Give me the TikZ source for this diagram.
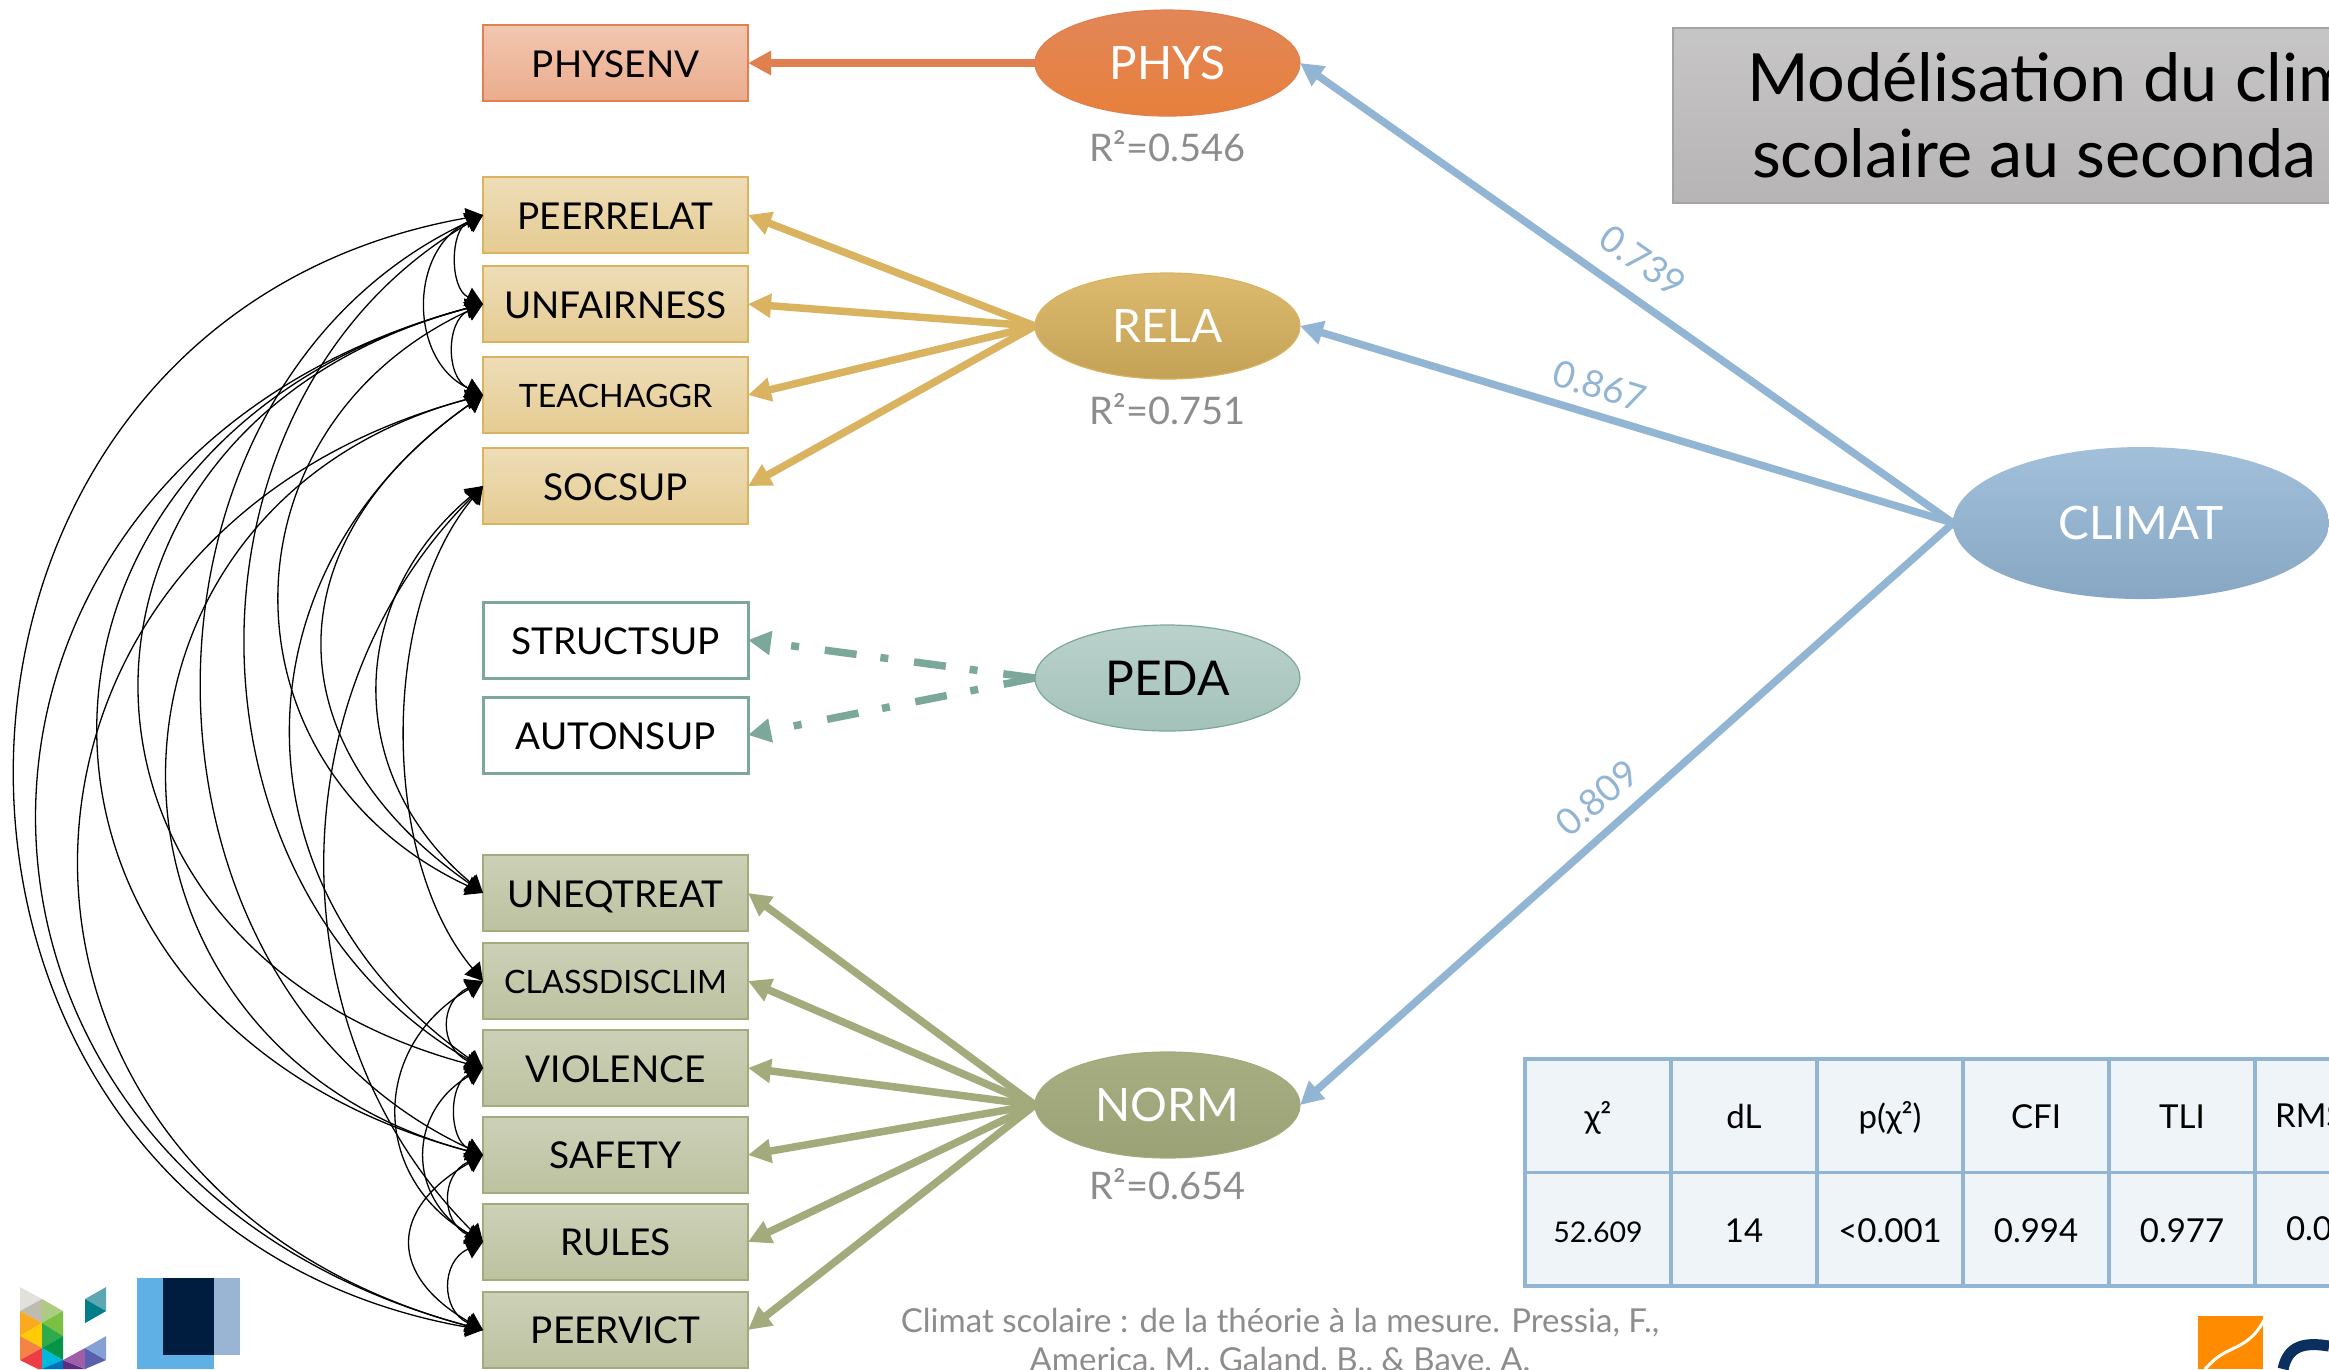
\documentclass[tikz,border=0pt]{standalone}
\usepackage{fontspec}
\setmainfont{Lato}
\usetikzlibrary{positioning,shapes.geometric,arrows.meta}

\definecolor{physline}{HTML}{E0804F}
\definecolor{relaline}{HTML}{D9B35F}
\definecolor{pedaline}{HTML}{7CA89C}
\definecolor{normline}{HTML}{A3AA7C}
\definecolor{climline}{HTML}{92B5D4}
\definecolor{softgray}{HTML}{8F8C8C}
\definecolor{navy}{HTML}{001D3F}
\definecolor{skyblue}{HTML}{5EB0E5}
\definecolor{slateblue}{HTML}{9AB5D4}
\definecolor{orangelogo}{HTML}{FF8C00}
\definecolor{navylogo}{HTML}{0B2F5F}
\definecolor{hexA}{HTML}{E2E0DB}
\definecolor{hexB}{HTML}{BDBCAF}
\definecolor{hexC}{HTML}{ADCB82}
\definecolor{hexD}{HTML}{FBA91E}
\definecolor{hexE}{HTML}{FFCB05}
\definecolor{hexF}{HTML}{7AC143}
\definecolor{hexG}{HTML}{2DAA4A}
\definecolor{hexH}{HTML}{F58345}
\definecolor{hexI}{HTML}{069447}
\definecolor{hexJ}{HTML}{EF3B43}
\definecolor{hexK}{HTML}{00B9DC}
\definecolor{hexL}{HTML}{0071BC}
\definecolor{hexM}{HTML}{5B2C86}
\definecolor{hexN}{HTML}{9E5FA6}
\definecolor{hexO}{HTML}{5B60AC}
\definecolor{hexP}{HTML}{84A0D4}
\definecolor{hexQ}{HTML}{5CA7B1}
\definecolor{hexR}{HTML}{007F8A}

\begin{document}
\begin{tikzpicture}
[x=0.1pt,y=-0.1pt,
 every node/.style={inner sep=0pt,outer sep=0pt,font=\fontsize{3.7}{4}\selectfont},
 obs/.style={rectangle,minimum width=26.5pt,minimum height=7.6pt,line width=0.15pt,text height=2.8pt,text depth=0pt},
 lat/.style={ellipse,minimum width=26.5pt,minimum height=10.6pt,line width=0.12pt,font=\fontsize{4.6}{5}\selectfont},
 physobs/.style={obs,draw=physline,top color=physline!45!white,bottom color=physline!65!white},
 relaobs/.style={obs,draw=relaline,top color=relaline!45!white,bottom color=relaline!68!white},
 pedaobs/.style={obs,draw=pedaline,line width=0.3pt,fill=white},
 normobs/.style={obs,draw=normline,top color=normline!55!white,bottom color=normline!72!white},
 tiny/.style={font=\fontsize{3.22}{3.6}\selectfont,text height=2.4pt},
 rsq/.style={softgray,font=\fontsize{3.8}{4}\selectfont},
 coef/.style={climline,font=\fontsize{3.7}{4}\selectfont},
 cell/.style={rectangle,draw=climline,line width=0.35pt,fill=climline!15!white,minimum width=14.6pt,minimum height=11.35pt,font=\fontsize{3.3}{3.6}\selectfont,text height=2.6pt,text depth=0pt},
 load/.style={->,line width=0.75pt,>={Triangle[length=2.3pt,width=2.3pt]}},
 cov/.style={<->,black,line width=0.13pt,>={Triangle[length=1.7pt,width=2pt]}}]

\useasboundingbox (0,0) rectangle (2329,1369);

% phys
\node[physobs] (PHYSENV) at (615.5,63) {PHYSENV};
\node[lat,top color=physline!95!white,bottom color=physline!75!orange,draw=physline,text=white] (PHYS) [on grid,right=55.2pt of PHYSENV] {PHYS};

% rela
\node[relaobs] (PEERRELAT)  [on grid,below=15.2pt of PHYSENV]  {PEERRELAT};
\node[relaobs] (UNFAIRNESS) [on grid,below=8.9pt of PEERRELAT]  {UNFAIRNESS};
\node[relaobs,tiny] (TEACHAGGR)  [on grid,below=9.1pt of UNFAIRNESS] {TEACHAGGR};
\node[relaobs] (SOCSUP)     [on grid,below=9.1pt of TEACHAGGR]  {SOCSUP};
\node[lat,top color=relaline!90!white,bottom color=relaline!90!black,draw=relaline,text=white] (RELA) [on grid,below=26.3pt of PHYS] {RELA};

% peda
\node[pedaobs] (STRUCTSUP) [on grid,below=15.4pt of SOCSUP]    {STRUCTSUP};
\node[pedaobs] (AUTONSUP)  [on grid,below=9.5pt of STRUCTSUP]  {AUTONSUP};
\node[lat,top color=pedaline!52!white,bottom color=pedaline!70!white,draw=pedaline,text=black,font=\fontsize{4.8}{5}\selectfont] (PEDA) [on grid,below=35.2pt of RELA] {PEDA};

% norm
\node[normobs] (UNEQTREAT)    [on grid,below=15.8pt of AUTONSUP]    {UNEQTREAT};
\node[normobs,tiny] (CLASSDISCLIM) [on grid,below=8.8pt of UNEQTREAT]    {CLASSDISCLIM};
\node[normobs] (VIOLENCE)     [on grid,below=8.7pt of CLASSDISCLIM] {VIOLENCE};
\node[normobs] (SAFETY)       [on grid,below=8.7pt of VIOLENCE]     {SAFETY};
\node[normobs] (RULES)        [on grid,below=8.7pt of SAFETY]       {RULES};
\node[normobs] (PEERVICT)     [on grid,below=8.8pt of RULES]        {PEERVICT};
\node[lat,top color=normline!95!white,bottom color=normline!95!black,draw=normline,text=white] (NORM) [on grid,below=42.7pt of PEDA] {NORM};

% climat
\node[lat,minimum width=37.6pt,minimum height=15.2pt,top color=climline!85!white,bottom color=climline!92!black,text=white] (CLIMAT) at (2141,523) {CLIMAT};

% r2
\node[rsq] (Rphys) [on grid,below=8.3pt of PHYS] {R²=0.546};
\node[rsq] (Rrela) [on grid,below=8.3pt of RELA] {R²=0.751};
\node[rsq] (Rnorm) [on grid,below=7.9pt of NORM] {R²=0.654};

% loadings
\path[load,physline] (PHYS.west) edge (PHYSENV.east);
\path[load,relaline] (RELA.west) edge (PEERRELAT.east);
\path[load,relaline] (RELA.west) edge (UNFAIRNESS.east);
\path[load,relaline] (RELA.west) edge (TEACHAGGR.east);
\path[load,relaline] (RELA.west) edge (SOCSUP.east);
\path[load,normline] (NORM.west) edge (UNEQTREAT.east);
\path[load,normline] (NORM.west) edge (CLASSDISCLIM.east);
\path[load,normline] (NORM.west) edge (VIOLENCE.east);
\path[load,normline] (NORM.west) edge (SAFETY.east);
\path[load,normline] (NORM.west) edge (RULES.east);
\path[load,normline] (NORM.west) edge (PEERVICT.east);
\path[load,pedaline,dash pattern=on 3.2pt off 2.6pt on 0.8pt off 2.4pt] (PEDA.west) edge (STRUCTSUP.east);
\path[load,pedaline,dash pattern=on 3.2pt off 2.6pt on 0.8pt off 2.4pt] (PEDA.west) edge (AUTONSUP.east);
\path[load,climline] (CLIMAT.west) edge (PHYS.east);
\path[load,climline] (CLIMAT.west) edge (RELA.east);
\path[load,climline] (CLIMAT.west) edge (NORM.east);

\node[coef,rotate=-35] (Cphys) at (1643,261) {0.739};
\node[coef,rotate=-17] (Crela) at (1600,386) {0.867};
\node[coef,rotate=40]  (Cnorm) at (1597,798) {0.809};

% covariances top
\path[cov,bend right=65,looseness=1.06] (PEERRELAT.west)  edge (UNFAIRNESS.west);
\path[cov,bend right=65,looseness=1.16] (UNFAIRNESS.west) edge (TEACHAGGR.west);
\path[cov,bend right=65,looseness=1.17] (PEERRELAT.west)  edge (TEACHAGGR.west);

% covariances bottom
\path[cov,bend right=65,looseness=1.43] (CLASSDISCLIM.west) edge (VIOLENCE.west);
\path[cov,bend right=65,looseness=1.12] (VIOLENCE.west)     edge (SAFETY.west);
\path[cov,bend right=65,looseness=1.38] (SAFETY.west)       edge (RULES.west);
\path[cov,bend right=65,looseness=1.36] (RULES.west)        edge (PEERVICT.west);
\path[cov,bend right=60,looseness=1.28] (CLASSDISCLIM.west) edge (RULES.west);
\path[cov,bend right=60,looseness=1.29] (VIOLENCE.west)     edge (RULES.west);
\path[cov,bend right=60,looseness=1.60] (SAFETY.west)       edge (PEERVICT.west);

% covariances across
\path[cov,bend right=80,looseness=1.45] (PEERRELAT.west)  edge (PEERVICT.west);
\path[cov,bend right=65,looseness=1.12] (PEERRELAT.west)  edge (SAFETY.west);
\path[cov,bend right=60,looseness=1.09] (PEERRELAT.west)  edge (VIOLENCE.west);
\path[cov,bend right=75,looseness=1.53] (UNFAIRNESS.west) edge (PEERVICT.west);
\path[cov,bend right=75,looseness=1.59] (UNFAIRNESS.west) edge (SAFETY.west);
\path[cov,bend right=75,looseness=1.58] (UNFAIRNESS.west) edge (VIOLENCE.west);
\path[cov,bend right=65,looseness=1.29] (UNFAIRNESS.west) edge (UNEQTREAT.west);
\path[cov,bend right=75,looseness=1.52] (TEACHAGGR.west)  edge (PEERVICT.west);
\path[cov,bend right=75,looseness=1.46] (TEACHAGGR.west)  edge (SAFETY.west);
\path[cov,bend right=55,looseness=1.18] (TEACHAGGR.west)  edge (VIOLENCE.west);
\path[cov,bend right=55,looseness=1.33] (TEACHAGGR.west)  edge (UNEQTREAT.west);
\path[cov,bend right=50,looseness=1.14] (SOCSUP.west)     edge (UNEQTREAT.west);
\path[cov,bend right=40,looseness=0.83] (SOCSUP.west)     edge (CLASSDISCLIM.west);
\path[cov,bend right=45,looseness=1.00] (SOCSUP.west)     edge (RULES.west);

% title
\node[rectangle,anchor=west,minimum height=17.5pt,line width=0.15pt,inner xsep=7.4pt,
      draw=softgray!80!white,top color=softgray!50!white,bottom color=softgray!65!white,
      font=\fontsize{6.65}{7.6}\selectfont,align=left] (Title) at (1673,115.5)
      {Modélisation du clim\\\hspace*{0.5pt}scolaire au seconda};

% fit table
\node[cell] (T11) at (1598,1115.7) {χ²};
\node[cell] (T12) [on grid,right=14.6pt of T11] {dL};
\node[cell] (T13) [on grid,right=14.6pt of T12] {p(χ²)};
\node[cell] (T14) [on grid,right=14.6pt of T13] {CFI};
\node[cell] (T15) [on grid,right=14.6pt of T14] {TLI};
\node[cell] (T16) [on grid,right=14.6pt of T15] {};
\node[cell,font=\fontsize{2.85}{3.2}\selectfont] (T21) [on grid,below=11.35pt of T11] {52.609};
\node[cell] (T22) [on grid,below=11.35pt of T12] {14};
\node[cell] (T23) [on grid,below=11.35pt of T13] {<0.001};
\node[cell] (T24) [on grid,below=11.35pt of T14] {0.994};
\node[cell] (T25) [on grid,below=11.35pt of T15] {0.977};
\node[cell] (T26) [on grid,below=11.35pt of T16] {};
\node[anchor=west,font=\fontsize{3.3}{3.6}\selectfont] (Lrms) at (2275,1116) {RMS};
\node[anchor=west,font=\fontsize{3.3}{3.6}\selectfont] (Lval) at (2286,1229) {0.0};

% source
\node[softgray,font=\fontsize{3.3}{3.9}\selectfont,align=center,anchor=base] (Source) at (1280,1371)
      {Climat scolaire : de la théorie à la mesure. Pressia, F.,\\America, M., Galand, B., \& Baye, A.};

% logo left
\fill[hexA] (20,1287) -- (42,1299) -- (20,1311) -- cycle;
\fill[hexB] (20,1311) -- (42,1299) -- (42,1323) -- cycle;
\fill[hexC] (42,1299) -- (63,1311) -- (42,1323) -- cycle;
\fill[hexD] (20,1311) -- (42,1323) -- (20,1336) -- cycle;
\fill[hexE] (20,1336) -- (42,1323) -- (42,1348) -- cycle;
\fill[hexF] (42,1323) -- (63,1311) -- (63,1336) -- cycle;
\fill[hexG] (42,1323) -- (63,1336) -- (42,1348) -- cycle;
\fill[hexH] (20,1336) -- (42,1348) -- (20,1360) -- cycle;
\fill[hexI] (42,1348) -- (63,1336) -- (63,1360) -- cycle;
\fill[hexJ] (20,1360) -- (42,1348) -- (42,1369) -- (38,1369) -- cycle;
\fill[hexK] (42,1348) -- (63,1360) -- (63,1369) -- (42,1369) -- cycle;
\fill[hexL] (42,1369) -- (63,1360) -- (63,1369) -- cycle;
\fill[hexM] (63,1360) -- (85,1369) -- (63,1369) -- cycle;
\fill[hexN] (63,1360) -- (85,1348) -- (85,1369) -- cycle;
\fill[hexO] (85,1348) -- (106,1360) -- (85,1369) -- cycle;
\fill[hexP] (85,1348) -- (106,1336) -- (106,1360) -- cycle;
\fill[hexQ] (85,1299) -- (106,1287) -- (106,1311) -- cycle;
\fill[hexR] (85,1299) -- (106,1311) -- (85,1323) -- cycle;

% logo middle
\fill[skyblue] (136.5,1277.5) rectangle (214,1369);
\fill[slateblue] (214,1277.5) rectangle (240,1355);
\fill[navy] (162.5,1277.5) rectangle (214,1355);

% logo right
\fill[orangelogo] (2198,1316) rectangle (2263,1369);
\draw[white,line width=0.3pt] (2266,1316) .. controls (2255,1340) and (2240,1345) .. (2230,1350) .. controls (2220,1355) and (2215,1358) .. (2205,1369);
\draw[navylogo,line width=1.1pt] (2329,1346) .. controls (2305,1342) and (2288,1345) .. (2283,1369);

\end{tikzpicture}
\end{document}
